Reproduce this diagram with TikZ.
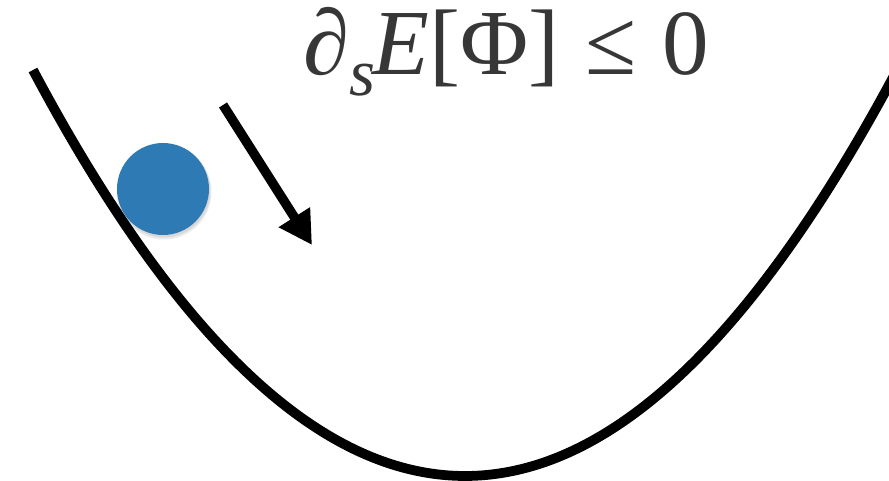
\documentclass[tikz,border=0pt]{standalone}
\usepackage{fontspec}
\newfontfamily\formfont{Liberation Serif}
\usetikzlibrary{arrows.meta}
\definecolor{ballblue}{RGB}{46,122,180}
\definecolor{txtgray}{RGB}{55,55,55}
\tikzset{
  curveline/.style={line width=0.195cm, black, line cap=butt},
  ballnode/.style={circle, fill=ballblue, minimum size=1.84cm, inner sep=0pt},
  slidearrow/.style={line width=0.19cm, black, -{Triangle[length=0.66cm, width=0.70cm]}},
  formula/.style={text=txtgray, inner sep=0pt, font=\formfont\fontsize{53}{58}\selectfont}
}
\begin{document}
\begin{tikzpicture}[x=0.02cm, y=-0.02cm]
\useasboundingbox (0,0) rectangle (889,480);
\clip (0,0) rectangle (889,480);
\fill[white] (0,0) rectangle (889,480);
% valley (parabola)
\coordinate (valleyleft) at (33,70);
\coordinate (valleyright) at (897,70);
\draw[curveline] (valleyleft) .. controls (321,611.3) and (609,611.3) .. (valleyright);
% ball shadow
\fill[black, opacity=0.08] (164,192) circle [radius=0.95cm];
\fill[black, opacity=0.08] (164,191) circle [radius=0.93cm];
\node[ballnode] (ball) at (163,189) {};
% arrow
\coordinate (arrowstart) at (223,105);
\coordinate (arrowend) at (312,245);
\draw[slidearrow] (arrowstart) -- (arrowend);
% formula
\node[formula, anchor=base] (formula) at (506,74) {{\itshape ∂}\raisebox{-0.23em}{\fontsize{38}{38}\selectfont\itshape s}\kern-0.03em{\itshape E}[Φ]\hspace{0.28em}≤\hspace{0.28em}0};
\end{tikzpicture}
\end{document}
